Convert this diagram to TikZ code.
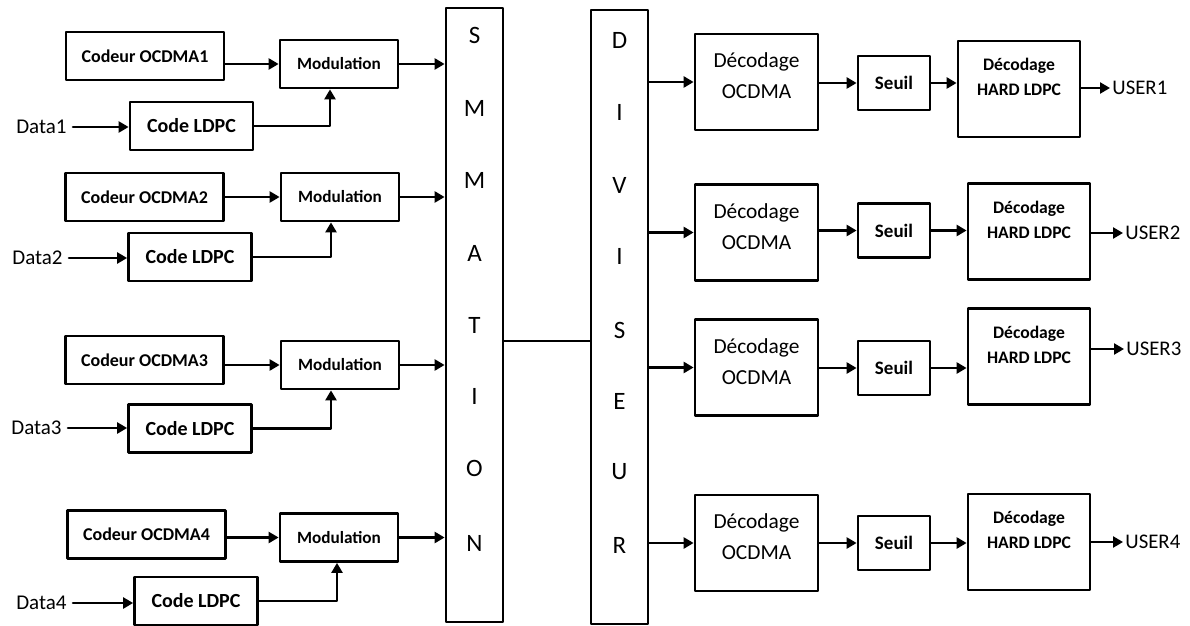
\documentclass[tikz,border=0pt]{standalone}
\usepackage{fontspec}
\setmainfont{Carlito}
\usetikzlibrary{arrows.meta}
\tikzset{
  bloc/.style={draw, line width=1.4pt, inner sep=0pt, align=center},
  codeur/.style={bloc, minimum width=79pt, minimum height=24pt, font=\bfseries\fontsize{9}{11}\selectfont},
  modul/.style={bloc, minimum width=59pt, minimum height=24pt, font=\bfseries\fontsize{8.6}{10}\selectfont},
  ldpc/.style={bloc, minimum width=61.5pt, minimum height=24pt, font=\bfseries\fontsize{10}{12}\selectfont},
  colonne/.style={bloc, minimum width=28.5pt, minimum height=307pt},
  lettre/.style={inner sep=0pt, font=\fontsize{12.5}{14}\selectfont},
  decobox/.style={bloc, minimum width=61.5pt, minimum height=48pt},
  decotxt/.style={align=center, inner sep=0pt, font=\fontsize{10.7}{15.5}\selectfont},
  seuil/.style={bloc, minimum width=36pt, minimum height=27pt, font=\bfseries\fontsize{9.5}{11}\selectfont},
  hardbox/.style={bloc, minimum width=61pt, minimum height=48pt},
  hardtxt/.style={align=center, inner sep=0pt, font=\bfseries\fontsize{8.8}{12.5}\selectfont},
  entree/.style={inner sep=3pt, anchor=east, font=\fontsize{10.5}{12}\selectfont},
  sortie/.style={inner sep=1pt, anchor=west, font=\fontsize{10.4}{12}\selectfont},
  fleche/.style={->, line width=1.3pt},
}
\begin{document}
\begin{tikzpicture}[x=0.5pt, y=-0.5pt, >={Triangle[length=5pt,width=5.5pt]}, line join=round, line cap=round]
  \useasboundingbox (0,0) rectangle (1190,626);

  % emetteurs
  \node[codeur] (codeur1) at (145,56) {Codeur OCDMA1};
  \node[modul] (mod1) at (339,64) {Modulation};
  \node[ldpc] (ldpc1) at (191.5,126) {Code LDPC};
  \node[entree] (data1) at (73,127) {Data1};

  \node[codeur] (codeur2) at (144.5,197) {Codeur OCDMA2};
  \node[modul] (mod2) at (340,197) {Modulation};
  \node[ldpc] (ldpc2) at (190,257) {Code LDPC};
  \node[entree] (data2) at (69,258) {Data2};

  \node[codeur] (codeur3) at (144.5,360) {Codeur OCDMA3};
  \node[modul] (mod3) at (340,365) {Modulation};
  \node[ldpc] (ldpc3) at (190,428.5) {Code LDPC};
  \node[entree] (data3) at (68,428) {Data3};

  \node[codeur] (codeur4) at (146.5,534.5) {Codeur OCDMA4};
  \node[modul] (mod4) at (339,537.5) {Modulation};
  \node[ldpc] (ldpc4) at (196,601) {Code LDPC};
  \node[entree] (data4) at (73,603) {Data4};

  % sommation et diviseur
  \node[colonne] (somme) at (474.5,315) {};
  \node[lettre] (s1) at (474.5,35) {S};
  \node[lettre] (s2) at (474.5,108) {M};
  \node[lettre] (s3) at (474.5,180) {M};
  \node[lettre] (s4) at (474.5,253) {A};
  \node[lettre] (s5) at (474.5,325) {T};
  \node[lettre] (s6) at (474.5,396) {I};
  \node[lettre] (s7) at (474.5,468) {O};
  \node[lettre] (s8) at (474.5,543) {N};

  \node[colonne] (div) at (619.5,317) {};
  \node[lettre] (d1) at (619.5,40) {D};
  \node[lettre] (d2) at (619.5,112) {I};
  \node[lettre] (d3) at (619.5,185) {V};
  \node[lettre] (d4) at (619.5,256) {I};
  \node[lettre] (d5) at (619.5,330) {S};
  \node[lettre] (d6) at (619.5,401) {E};
  \node[lettre] (d7) at (619.5,472) {U};
  \node[lettre] (d8) at (619.5,545) {R};
  \coordinate (lien) at (547,341);

  % recepteurs
  \node[decobox] (deco1) at (756.5,82) {};
  \node[decotxt] (decot1) at ([yshift=3pt]deco1.center) {Décodage\\OCDMA};
  \node[seuil] (seuil1) at (894,83) {Seuil};
  \node[hardbox] (hard1) at (1019,89) {};
  \node[hardtxt] (hardt1) at ([yshift=6pt]hard1.center) {Décodage\\HARD LDPC};
  \node[sortie] (user1) at (1110,88) {USER1};

  \node[decobox] (deco2) at (756.5,232.5) {};
  \node[decotxt] (decot2) at ([yshift=3pt]deco2.center) {Décodage\\OCDMA};
  \node[seuil] (seuil2) at (894,230.5) {Seuil};
  \node[hardbox] (hard2) at (1029,231.5) {};
  \node[hardtxt] (hardt2) at ([yshift=6pt]hard2.center) {Décodage\\HARD LDPC};
  \node[sortie] (user2) at (1123,233) {USER2};

  \node[decobox] (deco3) at (756.5,367.5) {};
  \node[decotxt] (decot3) at ([yshift=3pt]deco3.center) {Décodage\\OCDMA};
  \node[seuil] (seuil3) at (894,368) {Seuil};
  \node[hardbox] (hard3) at (1029,356.5) {};
  \node[hardtxt] (hardt3) at ([yshift=6pt]hard3.center) {Décodage\\HARD LDPC};
  \node[sortie] (user3) at (1124,349) {USER3};

  \node[decobox] (deco4) at (756.5,543) {};
  \node[decotxt] (decot4) at ([yshift=3pt]deco4.center) {Décodage\\OCDMA};
  \node[seuil] (seuil4) at (894,543) {Seuil};
  \node[hardbox] (hard4) at (1029,542) {};
  \node[hardtxt] (hardt4) at ([yshift=6pt]hard4.center) {Décodage\\HARD LDPC};
  \node[sortie] (user4) at (1123,542) {USER4};

  % liaisons
  \draw[fleche] (data1.east) -- (data1.east -| ldpc1.west);
  \draw[fleche] (ldpc1.east) -| ([xshift=-4.5pt]mod1.south);
  \draw[fleche] (mod1.west -| codeur1.east) -- (mod1.west);
  \draw[fleche] (mod1.east) -- (mod1.east -| somme.west);

  \draw[fleche] (data2.east) -- (data2.east -| ldpc2.west);
  \draw[fleche] (ldpc2.east) -| ([xshift=-4.5pt]mod2.south);
  \draw[fleche] (mod2.west -| codeur2.east) -- (mod2.west);
  \draw[fleche] (mod2.east) -- (mod2.east -| somme.west);

  \draw[fleche] (data3.east) -- (data3.east -| ldpc3.west);
  \draw[fleche] (ldpc3.east) -| ([xshift=-4.5pt]mod3.south);
  \draw[fleche] (mod3.west -| codeur3.east) -- (mod3.west);
  \draw[fleche] (mod3.east) -- (mod3.east -| somme.west);

  \draw[fleche] (data4.east) -- (data4.east -| ldpc4.west);
  \draw[fleche] (ldpc4.east) -| ([xshift=-1pt]mod4.south);
  \draw[fleche] (mod4.west -| codeur4.east) -- (mod4.west);
  \draw[fleche] (mod4.east) -- (mod4.east -| somme.west);

  \draw[line width=1.3pt] (lien -| somme.east) -- (lien -| div.west);

  \draw[fleche] (deco1.west -| div.east) -- (deco1.west);
  \draw[fleche] (seuil1.west -| deco1.east) -- (seuil1.west);
  \draw[fleche] (seuil1.east) -- (seuil1.east -| hard1.west);
  \draw[fleche] (user1.west -| hard1.east) -- (user1.west);

  \draw[fleche] (deco2.west -| div.east) -- (deco2.west);
  \draw[fleche] (seuil2.west -| deco2.east) -- (seuil2.west);
  \draw[fleche] (seuil2.east) -- (seuil2.east -| hard2.west);
  \draw[fleche] (user2.west -| hard2.east) -- (user2.west);

  \draw[fleche] (deco3.west -| div.east) -- (deco3.west);
  \draw[fleche] (seuil3.west -| deco3.east) -- (seuil3.west);
  \draw[fleche] (seuil3.east) -- (seuil3.east -| hard3.west);
  \draw[fleche] (user3.west -| hard3.east) -- (user3.west);

  \draw[fleche] (deco4.west -| div.east) -- (deco4.west);
  \draw[fleche] (seuil4.west -| deco4.east) -- (seuil4.west);
  \draw[fleche] (seuil4.east) -- (seuil4.east -| hard4.west);
  \draw[fleche] (user4.west -| hard4.east) -- (user4.west);
\end{tikzpicture}
\end{document}
